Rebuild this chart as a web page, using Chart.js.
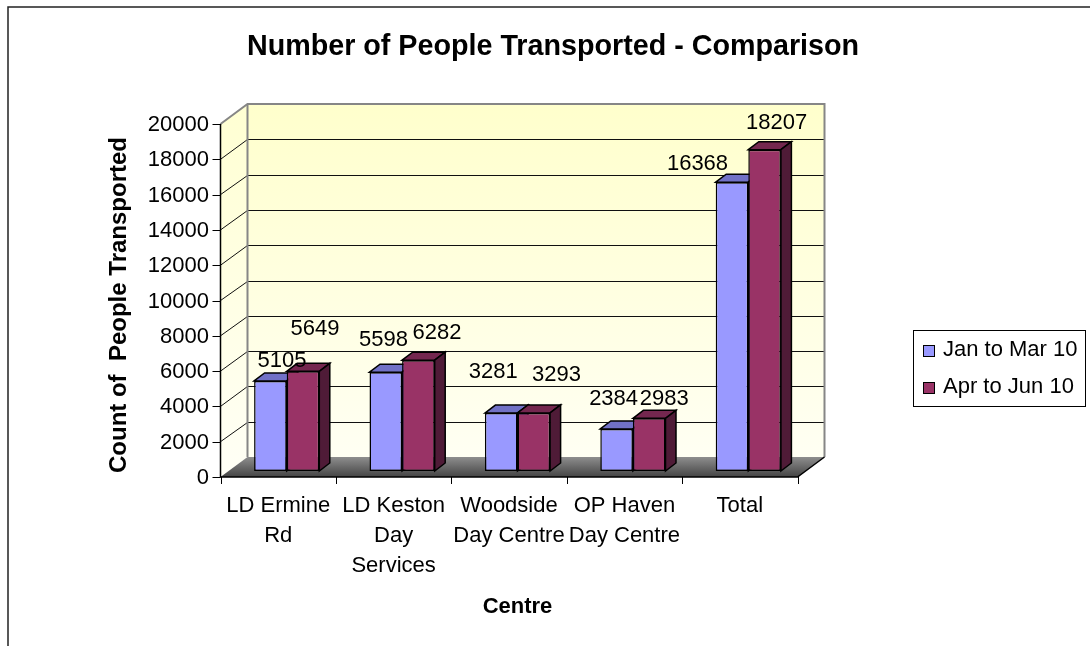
<!DOCTYPE html>
<html><head><meta charset="utf-8">
<script src="https://cdn.jsdelivr.net/npm/chart.js@4/dist/chart.umd.min.js"></script>
<style>html,body{margin:0;padding:0;background:#fff;}canvas{display:block;}</style>
</head><body>
<canvas id="c" width="1090" height="646"></canvas>
<script>
// ---- data ----
const categories = [["LD Ermine", "Rd"], ["LD Keston", "Day", "Services"], ["Woodside", "Day Centre"], ["OP Haven", "Day Centre"], "Total"];
const seriesNames = ["Jan to Mar 10", "Apr to Jun 10"];
const janToMar = [5105, 5598, 3281, 2384, 16368];
const aprToJun = [5649, 6282, 3293, 2983, 18207];
const yTicks = [0, 2000, 4000, 6000, 8000, 10000, 12000, 14000, 16000, 18000, 20000];

// ---- style ----
const FONT = "'Liberation Sans', Arial, sans-serif";
const FRONT = {dx: -8.5, dy: 6};   // front plane relative to bar plane
const BACK = {dx: 18.5, dy: -14};  // back wall relative to bar plane
const DEPTH = {dx: 10.5, dy: -8};  // bar depth

Chart.defaults.font.family = FONT;
Chart.defaults.color = '#000';

const excel3d = {
  id: 'excel3d',
  beforeDatasetsDraw(chart) {
    const {ctx, chartArea: ca, scales: {x, y}} = chart;
    const y0 = y.getPixelForValue(0);
    const yTop = y.getPixelForValue(yTicks[yTicks.length - 1]);
    const L = ca.left, R = ca.right;
    const bl = L + BACK.dx, br = R + BACK.dx, bt = yTop + BACK.dy, bb = y0 + BACK.dy;
    const fl = L + FRONT.dx, fr = R + FRONT.dx, ft = yTop + FRONT.dy, fb = y0 + FRONT.dy;
    ctx.save();
    // back wall
    let g = ctx.createLinearGradient(0, bt, 0, bb);
    g.addColorStop(0, '#FFFFCC'); g.addColorStop(1, '#FFFFF3');
    ctx.fillStyle = g;
    ctx.fillRect(bl, bt, br - bl, bb - bt);
    // side wall
    g = ctx.createLinearGradient(0, bt, 0, fb);
    g.addColorStop(0, '#FFFFD2'); g.addColorStop(1, '#FFFFF6');
    ctx.fillStyle = g;
    ctx.beginPath(); ctx.moveTo(fl, fb); ctx.lineTo(fl, ft); ctx.lineTo(bl, bt); ctx.lineTo(bl, bb); ctx.closePath(); ctx.fill();
    // gridlines
    ctx.strokeStyle = '#101010'; ctx.lineWidth = 1;
    y.ticks.forEach(t => {
      if (t.value === 0 || t.value === yTicks[yTicks.length - 1]) return;
      const p = y.getPixelForValue(t.value);
      const yb = Math.round(p + BACK.dy) + 0.5;
      ctx.beginPath(); ctx.moveTo(fl, p + FRONT.dy); ctx.lineTo(bl, yb); ctx.lineTo(br, yb); ctx.stroke();
    });
    // floor
    g = ctx.createLinearGradient(0, bb, 0, fb);
    g.addColorStop(0, '#8e8e8e'); g.addColorStop(1, '#444444');
    ctx.fillStyle = g;
    ctx.beginPath(); ctx.moveTo(fl, fb); ctx.lineTo(fr, fb); ctx.lineTo(br, bb); ctx.lineTo(bl, bb); ctx.closePath(); ctx.fill();
    // wall outline
    ctx.strokeStyle = '#868686'; ctx.lineWidth = 2;
    ctx.beginPath(); ctx.moveTo(fl, ft); ctx.lineTo(bl, bt); ctx.lineTo(br, bt); ctx.lineTo(br, bb); ctx.stroke();
    ctx.beginPath(); ctx.moveTo(bl, bt); ctx.lineTo(bl, bb); ctx.stroke();
    // front axes
    ctx.strokeStyle = '#000'; ctx.lineWidth = 1.5;
    ctx.beginPath(); ctx.moveTo(fl, ft); ctx.lineTo(fl, fb); ctx.lineTo(fr, fb); ctx.lineTo(br, bb); ctx.stroke();
    ctx.lineWidth = 1;
    y.ticks.forEach(t => {
      const p = Math.round(y.getPixelForValue(t.value) + FRONT.dy) + 0.5;
      ctx.beginPath(); ctx.moveTo(fl - 8, p); ctx.lineTo(fl, p); ctx.stroke();
    });
    const n = chart.data.labels.length;
    for (let i = 0; i <= n; i++) {
      const px = Math.round(x.getPixelForValue(i - 0.5) + FRONT.dx) + 0.5;
      ctx.beginPath(); ctx.moveTo(px, fb); ctx.lineTo(px, fb + 7); ctx.stroke();
    }
    ctx.restore();
  },
  beforeDatasetDraw() { return false; },
  afterDatasetsDraw(chart, args, opts) {
    const ctx = chart.ctx;
    const metas = chart.data.datasets.map((d, i) => chart.getDatasetMeta(i));
    const n = chart.data.labels.length;
    for (let i = 0; i < n; i++) {
      metas.forEach((meta, di) => {
        const el = meta.data[i];
        el.draw(ctx);
        const {x, y, base, width} = el.getProps(['x', 'y', 'base', 'width'], true);
        const l = x - width / 2, r = x + width / 2;
        ctx.save();
        ctx.lineWidth = 1.5; ctx.strokeStyle = '#000'; ctx.lineJoin = 'miter';
        ctx.fillStyle = opts.topColors[di];
        ctx.beginPath(); ctx.moveTo(l, y); ctx.lineTo(l + DEPTH.dx, y + DEPTH.dy); ctx.lineTo(r + DEPTH.dx, y + DEPTH.dy); ctx.lineTo(r, y); ctx.closePath();
        ctx.fill(); ctx.stroke();
        ctx.fillStyle = opts.sideColors[di];
        ctx.beginPath(); ctx.moveTo(r, y); ctx.lineTo(r + DEPTH.dx, y + DEPTH.dy); ctx.lineTo(r + DEPTH.dx, base + DEPTH.dy); ctx.lineTo(r, base); ctx.closePath();
        ctx.fill(); ctx.stroke();
        ctx.restore();
      });
    }
    // data labels
    ctx.save();
    ctx.font = '22px ' + FONT; ctx.fillStyle = '#000'; ctx.textAlign = 'center'; ctx.textBaseline = 'alphabetic';
    metas.forEach((meta, di) => meta.data.forEach((el, i) => {
      const off = opts.labelOffsets[di][i];
      ctx.fillText(String(chart.data.datasets[di].data[i]), el.x + off[0], el.y + off[1]);
    }));
    ctx.restore();
  },
  afterDraw(chart, args, opts) {
    const ctx = chart.ctx;
    ctx.save();
    // outer chart border
    ctx.strokeStyle = '#222'; ctx.lineWidth = 1.5;
    ctx.beginPath(); ctx.moveTo(8, chart.height); ctx.lineTo(8, 7); ctx.lineTo(chart.width, 7); ctx.stroke();
    // legend
    const lg = opts.legend;
    ctx.strokeStyle = '#000'; ctx.lineWidth = 1;
    ctx.strokeRect(lg.left + 0.5, lg.top + 0.5, lg.width, lg.height);
    ctx.font = '22px ' + FONT; ctx.textAlign = 'left'; ctx.textBaseline = 'middle';
    chart.data.datasets.forEach((ds, i) => {
      const cy = lg.firstRow + i * lg.rowGap;
      ctx.fillStyle = ds.backgroundColor;
      ctx.fillRect(lg.left + 10, cy - 5.5, 12, 12);
      ctx.strokeRect(lg.left + 10.5, cy - 5, 11, 11);
      ctx.fillStyle = '#000';
      ctx.fillText(ds.label, lg.left + 30, cy - 0.5);
    });
    ctx.restore();
  }
};

new Chart(document.getElementById('c'), {
  type: 'bar',
  data: {
    labels: categories,
    datasets: [
      {label: seriesNames[0], data: janToMar, backgroundColor: '#9999FF', borderColor: '#000', borderWidth: 1.5, borderSkipped: false},
      {label: seriesNames[1], data: aprToJun, backgroundColor: '#993366', borderColor: '#000', borderWidth: 1.5, borderSkipped: false}
    ]
  },
  options: {
    responsive: false,
    devicePixelRatio: 1,
    animation: false,
    events: [],
    layout: {padding: {left: 16, right: 0, top: 0, bottom: 0}},
    datasets: {bar: {categoryPercentage: 0.565, barPercentage: 1.0}},
    scales: {
      x: {
        grid: {display: false, drawTicks: false},
        border: {display: false},
        ticks: {autoSkip: false, maxRotation: 0, minRotation: 0, padding: -1.5, labelOffset: -8.5,
                font: {size: 22, lineHeight: 30 / 22}},
        title: {display: true, text: 'Centre', font: {size: 22, weight: 'bold'}, padding: {top: 0, bottom: 26}},
        afterFit: s => { s.height = 154; }
      },
      y: {
        min: -1190, max: 20000,
        grid: {display: false, drawTicks: false},
        border: {display: false},
        afterBuildTicks: s => { s.ticks = yTicks.map(v => ({value: v})); },
        ticks: {autoSkip: false, padding: 20, labelOffset: 7, font: {size: 22}, callback: v => String(v)},
        title: {display: true, text: 'Count of  People Transported', font: {size: 24, weight: 'bold'}, padding: {top: 89, bottom: 0}},
        afterFit: s => { s.width = 213; }
      },
      yR: {
        type: 'linear', position: 'right',
        grid: {display: false}, border: {display: false}, ticks: {display: false},
        afterFit: s => { s.width = 284; }
      }
    },
    plugins: {
      legend: {display: false},
      tooltip: {enabled: false},
      title: {display: true, text: 'Number of People Transported - Comparison', color: '#000',
              font: {size: 28.7, weight: 'bold'}, padding: {top: 29.6, bottom: 54}},
      excel3d: {
        topColors: ['#7171C6', '#74274F'],
        sideColors: ['#4D4D8A', '#4F1B37'],
        labelOffsets: [
          [[11.6, -14], [-2.3, -26], [-8, -35], [-3, -24], [-34.5, -12]],
          [[12, -36], [18.6, -21], [22.7, -32], [15, -13], [12, -21]]
        ],
        legend: {left: 913, top: 330, width: 172, height: 76, firstRow: 350.5, rowGap: 37}
      }
    }
  },
  plugins: [excel3d]
});
</script>
</body></html>
